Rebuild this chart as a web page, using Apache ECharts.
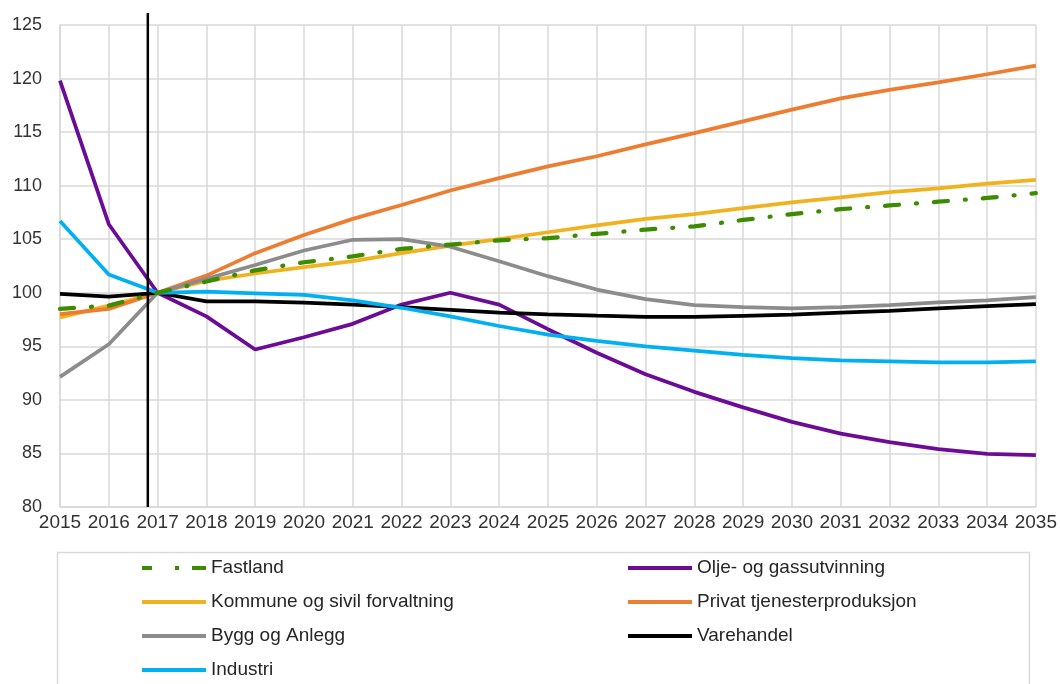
<!DOCTYPE html>
<html>
<head>
<meta charset="utf-8">
<script src="https://cdn.jsdelivr.net/npm/echarts@6/dist/echarts.min.js"></script>
<style>
  html, body { margin: 0; padding: 0; background: #fff; }
  #chart { width: 1060px; height: 684px; }
</style>
</head>
<body>
<div id="chart"></div>
<script>
var years = ["2015", "2016", "2017", "2018", "2019", "2020", "2021", "2022", "2023", "2024", "2025",
  "2026", "2027", "2028", "2029", "2030", "2031", "2032", "2033", "2034", "2035"];

var fastland = [98.5, 98.8, 100, 101.05, 102.1, 102.85, 103.4, 104.1, 104.5, 104.9, 105.1,
  105.5, 105.9, 106.2, 106.8, 107.35, 107.8, 108.15, 108.5, 108.85, 109.3];
var olje = [119.8, 106.4, 100, 97.8, 94.7, 95.85, 97.1, 98.9, 100.0, 98.9, 96.6,
  94.4, 92.4, 90.75, 89.3, 87.95, 86.85, 86.05, 85.4, 84.95, 84.85];
var kommune = [97.7, 98.8, 100, 101.1, 101.8, 102.4, 102.95, 103.7, 104.4, 105.0, 105.65,
  106.3, 106.9, 107.35, 107.9, 108.45, 108.9, 109.4, 109.75, 110.2, 110.55];
var privat = [98.0, 98.5, 100, 101.6, 103.7, 105.4, 106.9, 108.2, 109.55, 110.7, 111.8,
  112.75, 113.85, 114.9, 116.0, 117.1, 118.15, 118.95, 119.65, 120.4, 121.2];
var bygg = [92.15, 95.2, 100, 101.3, 102.6, 103.95, 104.95, 105.0, 104.3, 102.95, 101.55,
  100.3, 99.4, 98.85, 98.65, 98.55, 98.65, 98.85, 99.1, 99.3, 99.6];
var varehandel = [99.9, 99.65, 100, 99.2, 99.2, 99.07, 98.9, 98.66, 98.4, 98.14, 97.98,
  97.86, 97.75, 97.75, 97.85, 97.95, 98.15, 98.3, 98.55, 98.75, 98.95];
var industri = [106.7, 101.7, 100, 100.1, 99.95, 99.8, 99.3, 98.6, 97.8, 96.9, 96.1,
  95.5, 95.0, 94.6, 94.2, 93.9, 93.7, 93.6, 93.5, 93.5, 93.6];

// position of the vertical marker, as a fractional category index (between 2016 and 2017)
var markerIndex = 1.8;

var font = "'Liberation Sans', Arial, sans-serif";
var gridColor = "#d9d9d9";
// dash - dot - dash icon for the Fastland legend entry
var dashDotIcon = "path://M0,0h10v4h-10z M33,0h4v4h-4z M50,0h14v4h-14z";

function lineSeries(name, data, color, width, type, cap) {
  return {
    name: name,
    type: "line",
    data: data,
    symbol: "none",
    smooth: false,
    lineStyle: { color: color, width: width, type: type || "solid", cap: cap || "butt" },
    itemStyle: { color: color },
  };
}

var chart = echarts.init(document.getElementById("chart"));

var legendCommon = {
  orient: "vertical",
  top: 558,
  padding: 0,
  itemWidth: 64,
  itemHeight: 4,
  itemGap: 14,
  icon: "rect",
  symbolKeepAspect: false,
  textStyle: { fontSize: 19, fontFamily: font, color: "#262626", lineHeight: 20 },
  selectedMode: false,
};

chart.setOption({
  animation: false,
  grid: { left: 60, right: 23, top: 25, bottom: 177 },
  legend: [
    Object.assign({}, legendCommon, {
      left: 142,
      data: [
        { name: "Fastland", icon: dashDotIcon },
        "Kommune og sivil forvaltning",
        "Bygg og Anlegg",
        "Industri",
      ],
    }),
    Object.assign({}, legendCommon, {
      left: 628,
      data: ["Olje- og gassutvinning", "Privat tjenesterproduksjon", "Varehandel"],
    }),
  ],
  xAxis: {
    type: "category",
    data: years,
    boundaryGap: false,
    axisLine: { show: true, lineStyle: { color: gridColor, width: 1.5 } },
    axisTick: { show: false },
    axisLabel: { fontSize: 19, fontFamily: font, color: "#333", margin: 6, interval: 0 },
    splitLine: { show: true, lineStyle: { color: gridColor, width: 1.5 } },
  },
  yAxis: {
    type: "value",
    min: 80,
    max: 125,
    interval: 5,
    axisLine: { show: true, lineStyle: { color: gridColor, width: 1.5 } },
    axisTick: { show: false },
    axisLabel: { fontSize: 18, fontFamily: font, color: "#333", margin: 18 },
    splitLine: { show: true, lineStyle: { color: gridColor, width: 1.5 } },
  },
  series: [
    lineSeries("Olje- og gassutvinning", olje, "#6c0c96", 3.75),
    lineSeries("Kommune og sivil forvaltning", kommune, "#f0b31f", 3.75),
    lineSeries("Privat tjenesterproduksjon", privat, "#ed7d31", 3.75),
    lineSeries("Bygg og Anlegg", bygg, "#8c8c8c", 3.75),
    lineSeries("Varehandel", varehandel, "#000000", 3.75),
    lineSeries("Industri", industri, "#00b0f0", 3.75),
    lineSeries("Fastland", fastland, "#3d8b00", 4.25, [14, 17, 1, 17], "round"),
  ],
});

// vertical marker line and legend frame
var p1 = chart.convertToPixel({ xAxisIndex: 0 }, 1);
var p2 = chart.convertToPixel({ xAxisIndex: 0 }, 2);
var mx = p1 + (p2 - p1) * (markerIndex - 1);
var yBottom = chart.convertToPixel({ yAxisIndex: 0 }, 80);

chart.setOption({
  graphic: [
    {
      type: "rect",
      shape: { x: 57.5, y: 552.5, width: 972, height: 150 },
      style: { fill: "none", stroke: gridColor, lineWidth: 1.5 },
      silent: true,
    },
    {
      type: "line",
      shape: { x1: mx, y1: 13, x2: mx, y2: yBottom },
      style: { stroke: "#000", lineWidth: 2.5 },
      z: 100,
      silent: true,
    },
  ],
});
</script>
</body>
</html>
